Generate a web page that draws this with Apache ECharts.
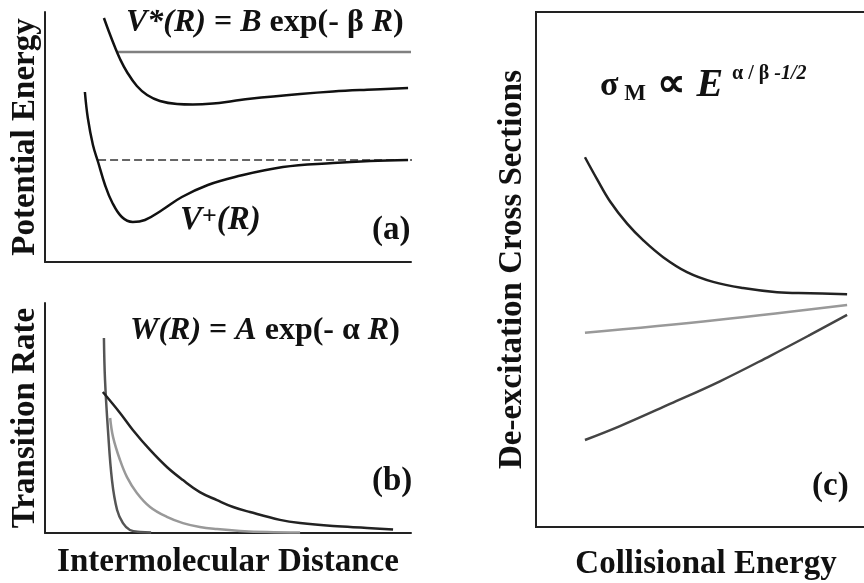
<!DOCTYPE html>
<html>
<head>
<meta charset="utf-8">
<script src="https://cdn.jsdelivr.net/npm/echarts@6/dist/echarts.min.js"></script>
<style>html,body{margin:0;padding:0;background:#fff;}#chart{width:864px;height:583px;}</style>
</head>
<body>
<div id="chart"></div>
<script>
// ---- Panel (a): potential energy curves (arbitrary units 0..10) ----
const vStarX = [1.61, 1.75, 1.91, 2.05, 2.24, 2.51, 2.79, 3.14, 3.61, 4.04, 4.59, 5.14, 5.60, 6.97, 7.87, 8.80, 9.92];
const vStarY = [9.76, 9.20, 8.60, 8.12, 7.60, 7.04, 6.68, 6.44, 6.32, 6.30, 6.34, 6.44, 6.53, 6.72, 6.82, 6.89, 6.96];
const vPlusX = [1.09, 1.17, 1.31, 1.45, 1.64, 1.83, 2.10, 2.40, 2.73, 3.20, 3.74, 4.45, 5.19, 6.50, 7.87, 8.88, 9.92];
const vPlusY = [6.80, 5.76, 4.68, 4.00, 3.08, 2.40, 1.80, 1.60, 1.68, 2.08, 2.60, 3.08, 3.40, 3.80, 3.96, 4.04, 4.08];
const levelX = [1.97, 10.0];
const levelY = [8.40, 8.40];
const dashX = [1.45, 10.38];
const dashY = [4.08, 4.08];

// ---- Panel (b): transition rates ----
const wSteepX = [1.61, 1.64, 1.72, 1.83, 1.97, 2.13, 2.32, 2.60, 2.90];
const wSteepY = [8.48, 6.65, 4.48, 2.30, 1.00, 0.43, 0.13, 0.04, 0.02];
const wMidX = [1.78, 1.86, 2.05, 2.24, 2.51, 2.87, 3.33, 3.77, 4.23, 4.70, 5.33, 6.07, 6.97];
const wMidY = [5.00, 4.17, 3.17, 2.43, 1.74, 1.13, 0.70, 0.43, 0.26, 0.17, 0.09, 0.04, 0.02];
const wSlowX = [1.58, 2.05, 2.40, 2.87, 3.33, 3.77, 4.23, 4.70, 5.14, 5.60, 6.42, 6.97, 7.87, 8.80, 9.51];
const wSlowY = [6.13, 5.22, 4.48, 3.61, 2.87, 2.30, 1.78, 1.43, 1.13, 0.91, 0.57, 0.43, 0.30, 0.22, 0.15];

// ---- Panel (c): de-excitation cross sections vs collisional energy ----
const sTopX = [1.44, 1.79, 2.18, 2.68, 3.15, 3.74, 4.44, 5.21, 6.09, 7.09, 8.06, 9.15];
const sTopY = [7.18, 6.76, 6.32, 5.89, 5.57, 5.24, 4.95, 4.76, 4.64, 4.56, 4.54, 4.52];
const sMidX = [1.44, 5.32, 9.15];
const sMidY = [3.77, 4.02, 4.31];
const sLowX = [1.44, 2.47, 3.94, 5.41, 6.88, 8.06, 9.15];
const sLowY = [1.69, 1.96, 2.39, 2.83, 3.32, 3.73, 4.12];

function zip(xs, ys) { return xs.map((x, i) => [x, ys[i]]); }

const SERIF = '"Liberation Serif", "Times New Roman", serif';
const INK = '#111';
const AX = { color: '#222', width: 2 };

function xAx(grid, name, gap, showLine) {
  return {
    type: 'value', gridIndex: grid, min: 0, max: 10,
    axisLine: { show: showLine, onZero: false, lineStyle: AX },
    axisTick: { show: false }, axisLabel: { show: false }, splitLine: { show: false },
    name: name, nameLocation: 'middle', nameGap: gap,
    nameTextStyle: { fontFamily: SERIF, fontWeight: 'bold', fontSize: 33, color: INK }
  };
}
function yAx(grid, name, gap, showLine) {
  return {
    type: 'value', gridIndex: grid, min: 0, max: 10,
    axisLine: { show: showLine, onZero: false, lineStyle: AX },
    axisTick: { show: false }, axisLabel: { show: false }, splitLine: { show: false },
    name: name, nameLocation: 'middle', nameGap: gap, nameRotate: 90,
    nameTextStyle: { fontFamily: SERIF, fontWeight: 'bold', fontSize: 33, color: INK }
  };
}
function line(xi, yi, xs, ys, color, width, extra) {
  return Object.assign({
    type: 'line', xAxisIndex: xi, yAxisIndex: yi, data: zip(xs, ys),
    showSymbol: false, symbol: 'none', smooth: 0.4,
    lineStyle: { color: color, width: width }, silent: true, animation: false
  }, extra || {});
}

const rich = {
  bi: { fontFamily: SERIF, fontWeight: 'bold', fontStyle: 'italic', fontSize: 32, fill: INK },
  b: { fontFamily: SERIF, fontWeight: 'bold', fontSize: 32, fill: INK },
  vp: { fontFamily: SERIF, fontWeight: 'bold', fontStyle: 'italic', fontSize: 33, fill: INK },
  vsup: { fontFamily: SERIF, fontWeight: 'bold', fontSize: 26, fill: INK, verticalAlign: 'top' },
  sup: { fontFamily: SERIF, fontWeight: 'bold', fontSize: 20, fill: INK },
  supi: { fontFamily: SERIF, fontWeight: 'bold', fontStyle: 'italic', fontSize: 20, fill: INK },
  sub: { fontFamily: SERIF, fontWeight: 'bold', fontSize: 23, fill: INK, verticalAlign: 'bottom' },
  sg: { fontFamily: SERIF, fontWeight: 'bold', fontSize: 34, fill: INK },
  prop: { fontFamily: SERIF, fontWeight: 'bold', fontSize: 40, fill: INK },
  lab: { fontFamily: SERIF, fontWeight: 'bold', fontSize: 33, fill: INK },
  E: { fontFamily: SERIF, fontWeight: 'bold', fontStyle: 'italic', fontSize: 40, fill: INK }
};
function txt(left, top, text) {
  return { type: 'text', left: left, top: top, silent: true, style: { text: text, rich: rich } };
}

const chart = echarts.init(document.getElementById('chart'), null, { renderer: 'canvas' });
chart.setOption({
  animation: false,
  backgroundColor: '#fff',
  grid: [
    { left: 45, top: 12, width: 366, height: 250, outerBoundsMode: 'none' },
    { left: 45, top: 303, width: 366, height: 230, outerBoundsMode: 'none' },
    { left: 536, top: 12, width: 340, height: 515, outerBoundsMode: 'none',
      show: true, borderColor: '#222', borderWidth: 2, backgroundColor: 'transparent' }
  ],
  xAxis: [
    xAx(0, '', 0, true),
    xAx(1, 'Intermolecular Distance', 13, true),
    xAx(2, 'Collisional Energy', 21, false)
  ],
  yAxis: [
    yAx(0, 'Potential Energy', 3, true),
    yAx(1, 'Transition Rate', 3, true),
    yAx(2, 'De-excitation Cross Sections', 7, false)
  ],
  series: [
    line(0, 0, levelX, levelY, '#808080', 2.5, { smooth: false }),
    line(0, 0, dashX, dashY, '#666', 2, { smooth: false, clip: false, lineStyle: { color: '#666', width: 2, type: [8, 4] } }),
    line(0, 0, vStarX, vStarY, '#111', 2.5),
    line(0, 0, vPlusX, vPlusY, '#111', 2.5),
    line(1, 1, wSteepX, wSteepY, '#555', 2.5),
    line(1, 1, wMidX, wMidY, '#999', 2.5),
    line(1, 1, wSlowX, wSlowY, '#222', 2.5),
    line(2, 2, sTopX, sTopY, '#222', 2.5),
    line(2, 2, sMidX, sMidY, '#999', 2.5),
    line(2, 2, sLowX, sLowY, '#444', 2.5)
  ],
  graphic: [
    txt(126, 7, '{bi|V*(R)}{b| = }{bi|B}{b| exp(- β }{bi|R}{b|)}'),
    txt(180, 204, '{vp|V}{vsup|+}{vp|(R)}'),
    txt(372, 214, '{lab|(a)}'),
    txt(130, 315, '{bi|W(R)}{b| = }{bi|A}{b| exp(- α }{bi|R}{b|)}'),
    txt(372, 465, '{lab|(b)}'),
    txt(600, 66, '{sg|σ}{sub| M  }{prop|∝ }{E|E}'),
    txt(732, 64, '{sup|α / β }{supi|-1/2}'),
    txt(812, 470, '{lab|(c)}')
  ]
});
</script>
</body>
</html>
